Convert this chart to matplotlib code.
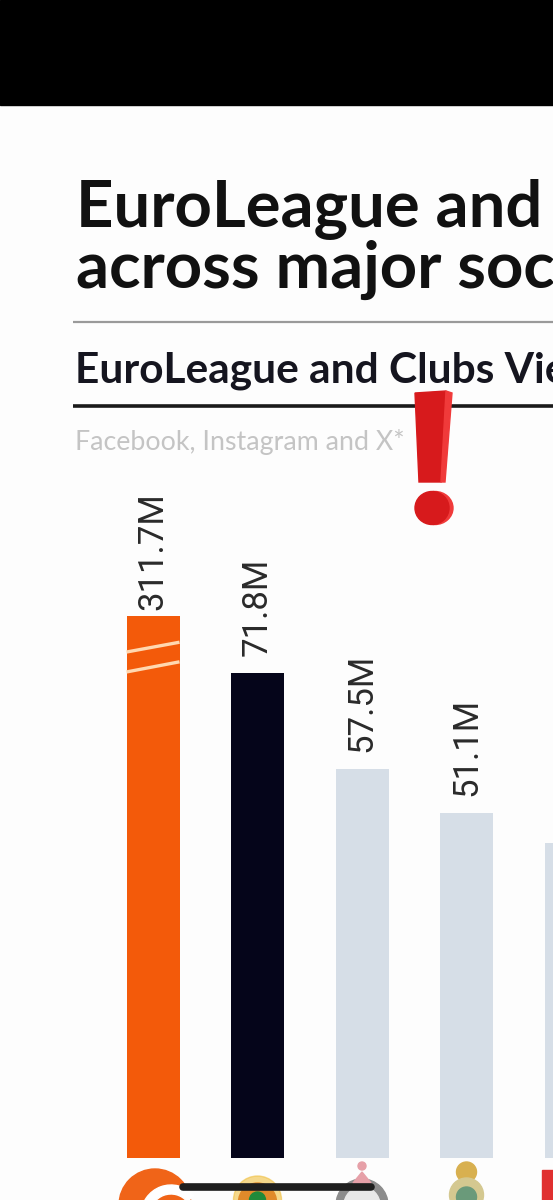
import matplotlib
matplotlib.use("Agg")
import matplotlib.pyplot as plt
from matplotlib.patches import Polygon, Circle, Ellipse, Rectangle, Wedge
import numpy as np

# ---- data ----
clubs = ["EuroLeague", "Panathinaikos", "Partizan", "Real Madrid", "Olympiacos"]
views_m = [311.7, 71.8, 57.5, 51.1, 46.6]
value_labels = ["311.7M", "71.8M", "57.5M", "51.1M", "46.6M"]
bar_colors = ["#f35a0a", "#05051a", "#d6dee7", "#d6dee7", "#d6dee7"]
break_display = 80.2   # broken (truncated) height shown for the first bar

title_lines = ["EuroLeague and Clubs", "across major social"]
subtitle = "EuroLeague and Clubs Views"
source_note = "Facebook, Instagram and X*"

W, H = 553, 1200
fig = plt.figure(figsize=(W / 100, H / 100), dpi=100)
fig.patch.set_facecolor("#fdfdfd")

# overlay axes in pixel coordinates for decorations/text
ov = fig.add_axes([0, 0, 1, 1])
ov.set_xlim(0, W)
ov.set_ylim(H, 0)
ov.axis("off")

# top black band (phone status area)
ov.add_patch(Rectangle((0, 0), W, 105, color="black", zorder=1))

# titles
ov.text(76, 227, title_lines[0], fontsize=47, fontweight="bold", family="Lato",
        color="#111111", va="baseline", ha="left")
ov.text(76, 288, title_lines[1], fontsize=47, fontweight="bold", family="Lato",
        color="#111111", va="baseline", ha="left")
ov.plot([73, W], [322, 322], color="#9a9a9a", lw=1.6, solid_capstyle="butt")
ov.text(75, 382, subtitle, fontsize=30.5, fontweight="bold", family="Lato",
        color="#15151f", va="baseline", ha="left")
ov.plot([73, W], [406, 406], color="#1a1a1a", lw=2.6, solid_capstyle="butt")
ov.text(75, 450, source_note, fontsize=19.3, family="Lato",
        color="#c4c4c4", va="baseline", ha="left")

# red exclamation mark
ov.add_patch(Polygon([(415, 393), (446, 391), (441, 482), (419, 482)],
                     closed=True, color="#d71a1c", zorder=5))
ov.add_patch(Polygon([(446, 391), (452, 393), (445, 482), (441, 482)],
                     closed=True, color="#f03a3a", zorder=5))
ov.add_patch(Ellipse((435, 508), 36, 33, color="#f03a3a", zorder=5))
ov.add_patch(Ellipse((432, 508), 34, 33, color="#d71a1c", zorder=6))

# ---- bar chart axes ----
x0_px, step_px, bottom_px, top_px, ppm = 153, 104.5, 1158, 480, 6.76
ax = fig.add_axes([0, (H - bottom_px) / H, 1, (bottom_px - top_px) / H])
ax.set_xlim(-x0_px / step_px, (W - x0_px) / step_px)
ax.set_ylim(0, (bottom_px - top_px) / ppm)
ax.axis("off")
ax.patch.set_alpha(0)

x = np.arange(len(clubs))
heights = [min(v, break_display) for v in views_m]
ax.bar(x, heights, width=53 / step_px, color=bar_colors, zorder=2)

# axis-break stripes on the first bar
bw = 53 / step_px / 2
for off_l, off_r in [(-5.35, -3.9), (-8.3, -6.8)]:
    ax.plot([x[0] - bw, x[0] + bw], [break_display + off_l, break_display + off_r],
            color="#ffd8b0", lw=2.4, zorder=3, solid_capstyle="butt")

for xi, v, h, lab in zip(x, views_m, heights, value_labels):
    gap_px = 6 if v > break_display else 17
    ax.text(xi, h + gap_px / ppm, lab, rotation=90, ha="center", va="bottom",
            fontsize=25, family="Roboto", color="#2a2a2a", clip_on=False)

# ---- club logos (simplified) ----
ov2 = fig.add_axes([0, 0, 1, 1])
ov2.set_xlim(0, W)
ov2.set_ylim(H, 0)
ov2.axis("off")
ov2.patch.set_alpha(0)
cx = [x0_px + step_px * i for i in range(len(clubs))]
# EuroLeague ball
ov2.add_patch(Circle((cx[0] + 2, 1205), 36, color="#f06418"))
ov2.add_patch(Wedge((cx[0] + 18, 1215), 30, 180, 320, width=9, color="white"))
# Panathinaikos
ov2.add_patch(Circle((cx[1], 1200), 24, color="#f0c040", alpha=0.6))
ov2.add_patch(Circle((cx[1], 1202), 19, color="#e08a2a"))
ov2.add_patch(Circle((cx[1], 1200), 8, color="#1f8a3a"))
# Partizan
ov2.add_patch(Circle((cx[2], 1205), 26, color="#8c8c8c"))
ov2.add_patch(Circle((cx[2], 1205), 18, color="#e8e8e8"))
ov2.add_patch(Polygon([(cx[2] - 9, 1183), (cx[2] + 9, 1183), (cx[2], 1172)], color="#e6a0a8"))
ov2.add_patch(Circle((cx[2], 1166), 4, color="#e6a0a8"))
# Real Madrid
ov2.add_patch(Circle((cx[3], 1172), 10, color="#d8b050"))
ov2.add_patch(Circle((cx[3], 1195), 17, color="#d4c890"))
ov2.add_patch(Circle((cx[3], 1197), 10, color="#6a9a7a"))
# fifth
ov2.add_patch(Rectangle((542, 1170), 11, 30, color="#e03030"))

# phone home indicator
ov2.plot([183, 371], [1187, 1187], color="#1e1e1e", lw=5.5, solid_capstyle="round")

fig.savefig("out.png", dpi=100, facecolor=fig.get_facecolor())
